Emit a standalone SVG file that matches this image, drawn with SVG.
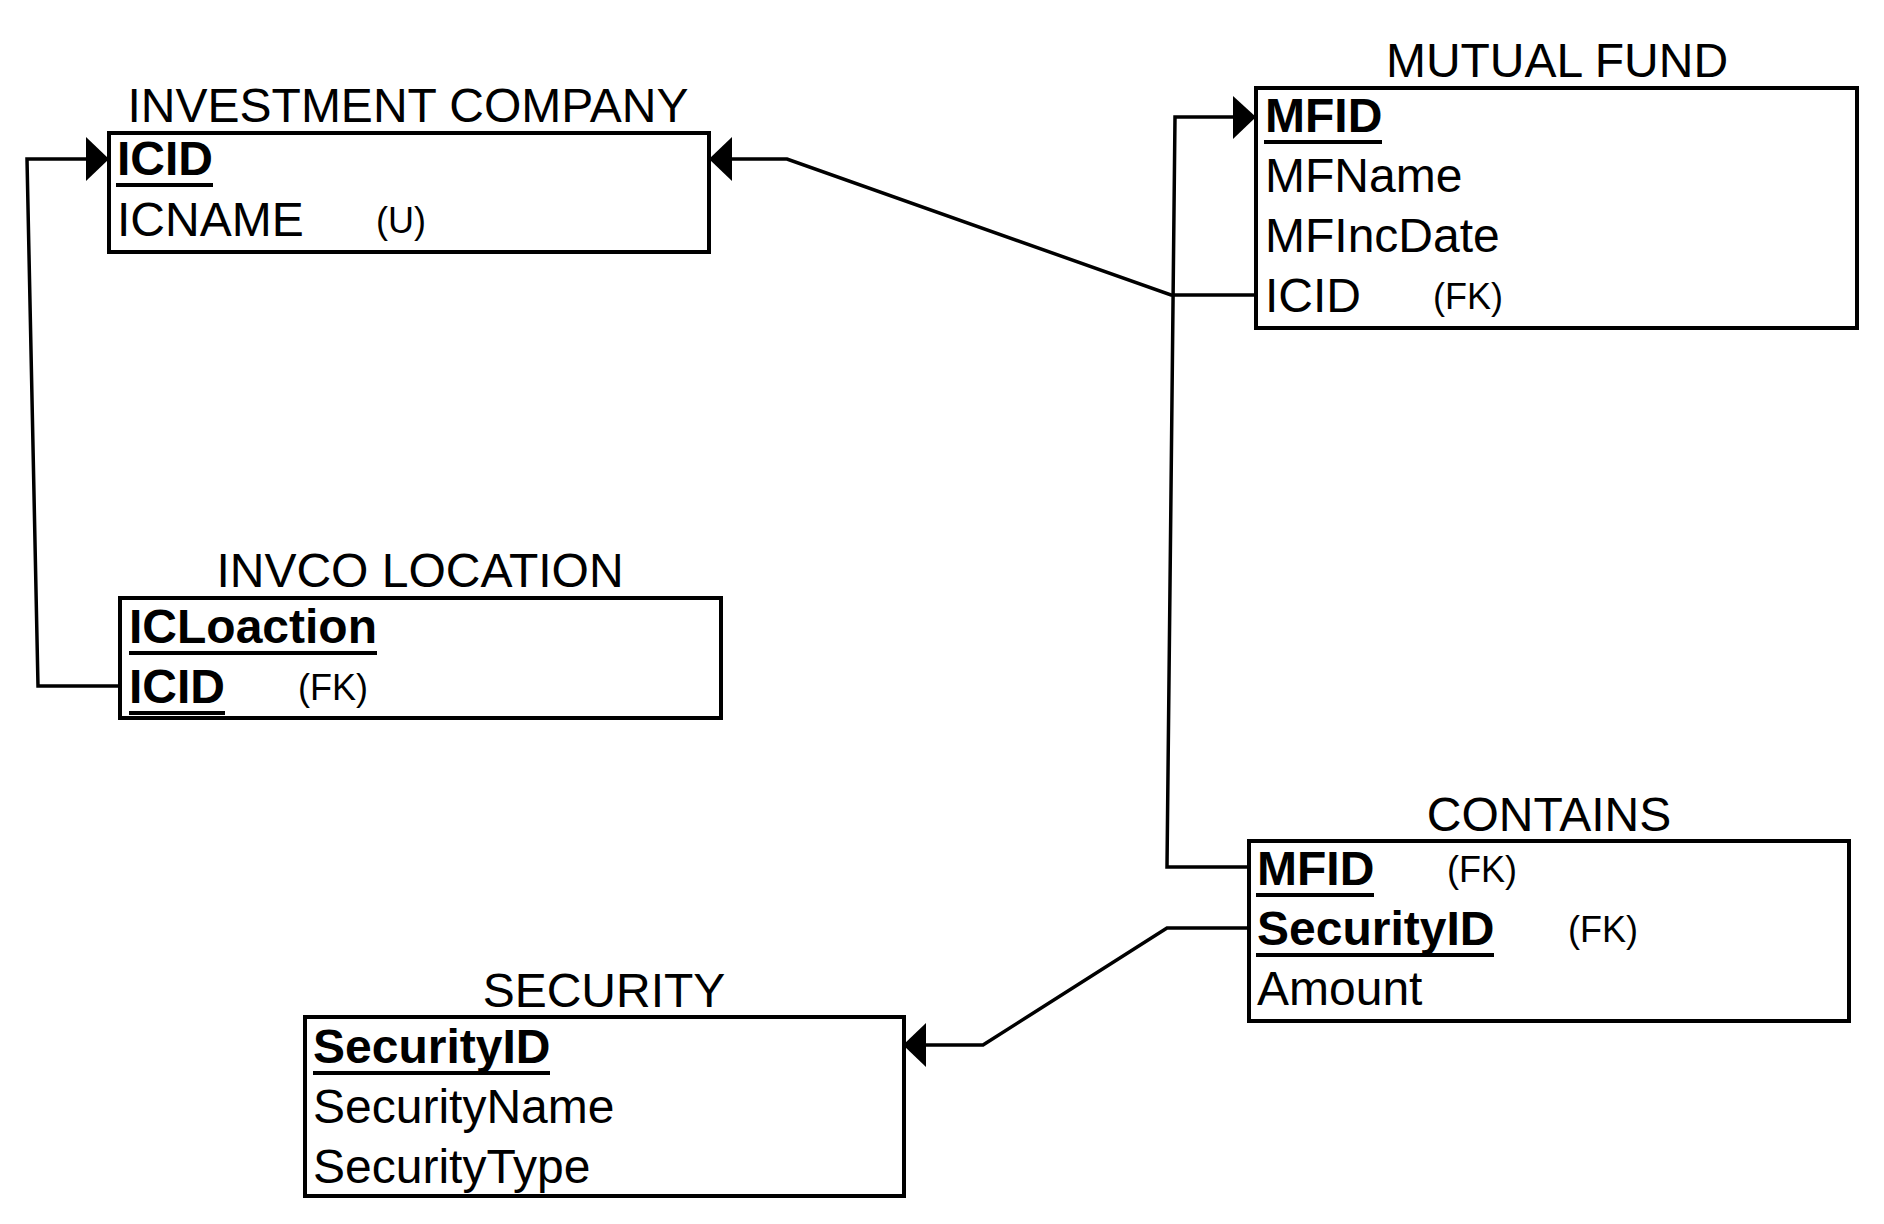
<svg xmlns="http://www.w3.org/2000/svg" width="1884" height="1224" viewBox="0 0 1884 1224">
<style>
  text { font-family: "Liberation Sans", Arial, sans-serif; fill: #000; }
  .title { font-size: 48px; text-anchor: middle; }
  .attr { font-size: 48px; }
  .key { font-size: 48px; font-weight: bold; }
  .note { font-size: 36px; }
  .box { fill: #fff; stroke: #000; stroke-width: 4; }
  .ul { stroke: #000; stroke-width: 4; }
  .conn { fill: none; stroke: #000; stroke-width: 3.5; stroke-linejoin: miter; }
  .head { fill: #000; }
</style>
<rect width="1884" height="1224" fill="#fff"/>

<g id="connectors">
  <!-- INVCO LOCATION.ICID -> INVESTMENT COMPANY.ICID -->
  <polyline class="conn" points="120,686 38,686 27,159 88,159"/>
  <polygon class="head" points="109,159 86,137 86,181"/>
  <!-- MUTUAL FUND.ICID -> INVESTMENT COMPANY.ICID -->
  <polyline class="conn" points="1256,295 1171,295 787,159 728,159"/>
  <polygon class="head" points="709,159 732,137 732,181"/>
  <!-- CONTAINS.MFID -> MUTUAL FUND.MFID -->
  <polyline class="conn" points="1249,867 1167,867 1175,117 1236,117"/>
  <polygon class="head" points="1256,117 1233,96 1233,139"/>
  <!-- CONTAINS.SecurityID -> SECURITY.SecurityID -->
  <polyline class="conn" points="1249,928 1167,928 983,1045 922,1045"/>
  <polygon class="head" points="903,1045 926,1023 926,1067"/>
</g>

<g id="investment-company">
  <text class="title" x="408" y="122">INVESTMENT COMPANY</text>
  <rect class="box" x="109" y="133" width="600" height="119"/>
  <text class="key" x="117" y="175">ICID</text>
  <line class="ul" x1="116" y1="185" x2="213" y2="185"/>
  <text class="attr" x="117" y="236">ICNAME</text>
  <text class="note" x="376" y="233">(U)</text>
</g>

<g id="mutual-fund">
  <text class="title" x="1557" y="77">MUTUAL FUND</text>
  <rect class="box" x="1256" y="88" width="601" height="240"/>
  <text class="key" x="1265" y="132">MFID</text>
  <line class="ul" x1="1264" y1="142" x2="1382" y2="142"/>
  <text class="attr" x="1265" y="192">MFName</text>
  <text class="attr" x="1265" y="252">MFIncDate</text>
  <text class="attr" x="1265" y="312">ICID</text>
  <text class="note" x="1433" y="309">(FK)</text>
</g>

<g id="invco-location">
  <text class="title" x="420" y="587">INVCO LOCATION</text>
  <rect class="box" x="120" y="598" width="601" height="120"/>
  <text class="key" x="129" y="643">ICLoaction</text>
  <line class="ul" x1="129" y1="653" x2="377" y2="653"/>
  <text class="key" x="129" y="703">ICID</text>
  <line class="ul" x1="129" y1="713" x2="225" y2="713"/>
  <text class="note" x="298" y="700">(FK)</text>
</g>

<g id="contains">
  <text class="title" x="1549" y="831">CONTAINS</text>
  <rect class="box" x="1249" y="841" width="600" height="180"/>
  <text class="key" x="1257" y="885">MFID</text>
  <line class="ul" x1="1256" y1="895" x2="1374" y2="895"/>
  <text class="note" x="1447" y="882">(FK)</text>
  <text class="key" x="1257" y="945">SecurityID</text>
  <line class="ul" x1="1256" y1="955" x2="1494" y2="955"/>
  <text class="note" x="1568" y="942">(FK)</text>
  <text class="attr" x="1257" y="1005">Amount</text>
</g>

<g id="security">
  <text class="title" x="604" y="1007">SECURITY</text>
  <rect class="box" x="305" y="1017" width="599" height="179"/>
  <text class="key" x="313" y="1063">SecurityID</text>
  <line class="ul" x1="313" y1="1073" x2="550" y2="1073"/>
  <text class="attr" x="313" y="1123">SecurityName</text>
  <text class="attr" x="313" y="1183">SecurityType</text>
</g>
</svg>
